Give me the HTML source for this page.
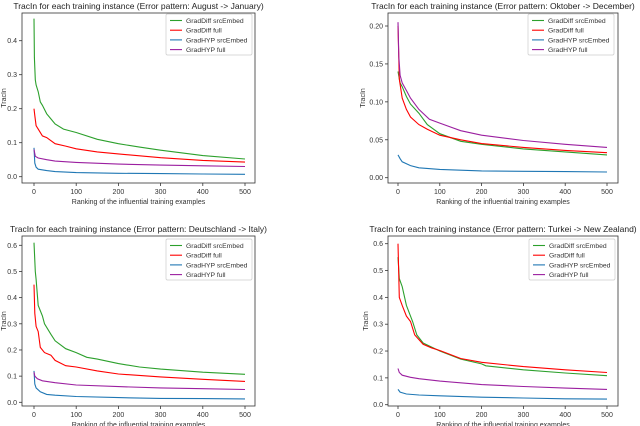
<!DOCTYPE html>
<html><head><meta charset="utf-8"><style>
html,body{margin:0;padding:0;background:#fff;}
svg{display:block;font-family:"Liberation Sans","DejaVu Sans",sans-serif;}
</style></head><body>
<svg id="fig" width="640" height="426" viewBox="0 0 640 426" xmlns="http://www.w3.org/2000/svg"></svg>
<script>
const seriesNames=["GradDiff srcEmbed","GradDiff full","GradHYP srcEmbed","GradHYP full"];
const seriesColors=["#2ca02c","#ff0000","#1f77b4","#9b1fa0"];
const xTicks=[0,100,200,300,400,500];
// panel 1: August -> January
const p1Title="TracIn for each training instance (Error pattern: August -> January)";
const p1X=[[0,1,3,5,10,15,20,30,40,50,70,100,150,200,250,300,400,500],[0,2,5,10,20,30,50,75,100,150,200,300,400,500],[0,2,5,10,30,50,100,200,300,400,500],[0,3,10,30,50,100,200,300,400,500]];
const p1Y=[[0.465,0.35,0.285,0.27,0.25,0.22,0.21,0.185,0.17,0.155,0.14,0.13,0.11,0.097,0.087,0.078,0.062,0.052],[0.2,0.18,0.15,0.14,0.12,0.115,0.097,0.09,0.082,0.073,0.067,0.056,0.048,0.043],[0.085,0.04,0.028,0.022,0.018,0.015,0.012,0.01,0.009,0.008,0.007],[0.08,0.06,0.055,0.05,0.046,0.042,0.037,0.034,0.032,0.03]];
const p1YTicks=[0,0.1,0.2,0.3,0.4];
const p1YLabels=["0.0","0.1","0.2","0.3","0.4"];
// panel 2: Oktober -> December
const p2Title="TracIn for each training instance (Error pattern: Oktober -> December)";
const p2X=[[0,5,10,20,30,50,70,100,150,200,300,400,500],[0,3,10,20,30,50,70,100,150,200,300,400,500],[0,5,10,30,50,100,200,300,400,500],[0,2,5,10,20,30,50,75,100,150,200,300,400,500]];
const p2Y=[[0.14,0.125,0.12,0.107,0.097,0.085,0.07,0.058,0.048,0.044,0.038,0.034,0.03],[0.2,0.13,0.105,0.09,0.08,0.07,0.064,0.056,0.05,0.045,0.04,0.036,0.033],[0.03,0.025,0.021,0.016,0.013,0.011,0.009,0.0085,0.008,0.0075],[0.205,0.16,0.135,0.125,0.115,0.105,0.09,0.077,0.072,0.062,0.056,0.049,0.044,0.04]];
const p2YTicks=[0,0.05,0.1,0.15,0.2];
const p2YLabels=["0.00","0.05","0.10","0.15","0.20"];
// panel 3: Deutschland -> Italy
const p3Title="TracIn for each training instance (Error pattern: Deutschland -> Italy)";
const p3X=[[0,3,5,10,20,25,40,50,75,100,125,150,200,250,300,400,500],[0,2,5,10,15,25,40,50,75,100,150,200,300,400,500],[0,2,5,15,30,50,100,200,300,400,500],[0,2,8,20,50,100,200,300,400,500]];
const p3Y=[[0.61,0.5,0.47,0.37,0.33,0.3,0.26,0.235,0.205,0.19,0.172,0.165,0.148,0.135,0.127,0.115,0.107],[0.45,0.34,0.29,0.27,0.21,0.19,0.18,0.16,0.14,0.135,0.12,0.108,0.097,0.088,0.08],[0.12,0.07,0.055,0.04,0.03,0.027,0.022,0.018,0.015,0.014,0.013],[0.115,0.1,0.09,0.082,0.075,0.066,0.06,0.055,0.052,0.049]];
const p3YTicks=[0,0.1,0.2,0.3,0.4,0.5,0.6];
const p3YLabels=["0.0","0.1","0.2","0.3","0.4","0.5","0.6"];
// panel 4: Turkei -> New Zealand
const p4Title="TracIn for each training instance (Error pattern: Turkei -> New Zealand)";
const p4X=[[0,3,10,20,35,45,60,80,100,150,200,210,300,400,500],[0,3,10,20,30,40,60,80,100,150,200,300,400,500],[0,5,20,50,100,200,300,400,500],[0,3,10,30,50,100,200,300,400,500]];
const p4Y=[[0.55,0.47,0.44,0.37,0.31,0.26,0.23,0.215,0.2,0.17,0.152,0.145,0.13,0.118,0.108],[0.6,0.4,0.37,0.33,0.31,0.26,0.225,0.212,0.202,0.172,0.158,0.142,0.13,0.12],[0.057,0.047,0.04,0.036,0.033,0.028,0.025,0.022,0.021],[0.135,0.12,0.11,0.102,0.097,0.088,0.075,0.068,0.062,0.057]];
const p4YTicks=[0,0.1,0.2,0.3,0.4,0.5,0.6];
const p4YLabels=["0.0","0.1","0.2","0.3","0.4","0.5","0.6"];

const NS="http://www.w3.org/2000/svg";
const fig=document.getElementById('fig');
function mk(tag,attrs,parent,txt){const e=document.createElementNS(NS,tag);for(const k in attrs)e.setAttribute(k,attrs[k]);if(txt!==undefined)e.textContent=txt;parent.appendChild(e);return e;}

function panel(id,title,xs,ys,yTicks,yLabels,L){
  const g=mk('g',{},fig);
  
  
  const xS=v=>L.x0+(v/500)*(L.x500-L.x0);
  const yS=v=>L.yb+(v-yTicks[0])/(yTicks[yTicks.length-1]-yTicks[0])*(L.yt-L.yb);
  const t=mk('text',{x:(L.fl+L.fr)/2,y:L.ft-4,'text-anchor':'middle','font-size':'8.5',fill:'#222'},g,title);
  
  
  const fr=mk('rect',{x:L.fl,y:L.ft,width:L.fr-L.fl,height:L.fb-L.ft,fill:'none',stroke:'#333','stroke-width':'0.8'},g);
  
  
  xTicks.forEach(v=>{
    const x=xS(v);
    mk('line',{x1:x,x2:x,y1:L.fb,y2:L.fb+3,stroke:'#333','stroke-width':'0.8'},g);
    const tl=mk('text',{x:x,y:L.fb+11,'text-anchor':'middle','font-size':'7',fill:'#333'},g,String(v));
    
    
  });
  yTicks.forEach((v,i)=>{
    const y=yS(v);
    mk('line',{x1:L.fl-3,x2:L.fl,y1:y,y2:y,stroke:'#333','stroke-width':'0.8'},g);
    const tl=mk('text',{x:L.fl-5,y:y+2.5,'text-anchor':'end','font-size':'7',fill:'#333'},g,yLabels[i]);
    
    
  });
  const xl=mk('text',{x:(L.fl+L.fr)/2,y:L.fb+21,'text-anchor':'middle','font-size':'7',fill:'#333'},g,'Ranking of the influential training examples');
  
  
  const yx=L.ytx, ym=(L.ft+L.fb)/2;
  const yl=mk('text',{x:yx,y:ym,'text-anchor':'middle','font-size':'7',fill:'#333',transform:`rotate(-90 ${yx} ${ym})`},g,'TracIn');
  
  
  xs.forEach((arr,s)=>{
    const pts=arr.map((v,i)=>xS(v).toFixed(1)+','+yS(ys[s][i]).toFixed(1)).join(' ');
    const pl=mk('polyline',{points:pts,fill:'none',stroke:seriesColors[s],'stroke-width':'1.1'},g);
    
    
  });
  const lg=mk('g',{},g);
  
  
  mk('rect',{x:L.lx,y:L.ly,width:86,height:41,fill:'#fff',stroke:'#ccc','stroke-width':'0.7',rx:1.5},lg);
  seriesNames.forEach((n,s)=>{
    const y=L.ly+6.5+s*9.7;
    mk('line',{x1:L.lx+4,x2:L.lx+16,y1:y,y2:y,stroke:seriesColors[s],'stroke-width':'1.1'},lg);
    const et=mk('text',{x:L.lx+20,y:y+2.5,'font-size':'6.8',fill:'#333'},lg,n);
    
    
  });
}
panel('august-january',p1Title,p1X,p1Y,p1YTicks,p1YLabels,{fl:22,fr:255,ft:13,fb:183,x0:34,x500:245,yb:176.7,yt:40.7,lx:166,ly:14,ytx:6});
panel('oktober-december',p2Title,p2X,p2Y,p2YTicks,p2YLabels,{fl:388,fr:618,ft:13,fb:183,x0:398,x500:607,yb:177.7,yt:26,lx:528,ly:14,ytx:365});
panel('deutschland-italy',p3Title,p3X,p3Y,p3YTicks,p3YLabels,{fl:22,fr:255,ft:236,fb:406,x0:34,x500:245,yb:402.3,yt:245.3,lx:166,ly:239,ytx:6});
panel('turkei-new-zealand',p4Title,p4X,p4Y,p4YTicks,p4YLabels,{fl:388,fr:618,ft:236,fb:406,x0:398,x500:607,yb:404.7,yt:243.7,lx:529,ly:239,ytx:368});
</script>
</body></html>
